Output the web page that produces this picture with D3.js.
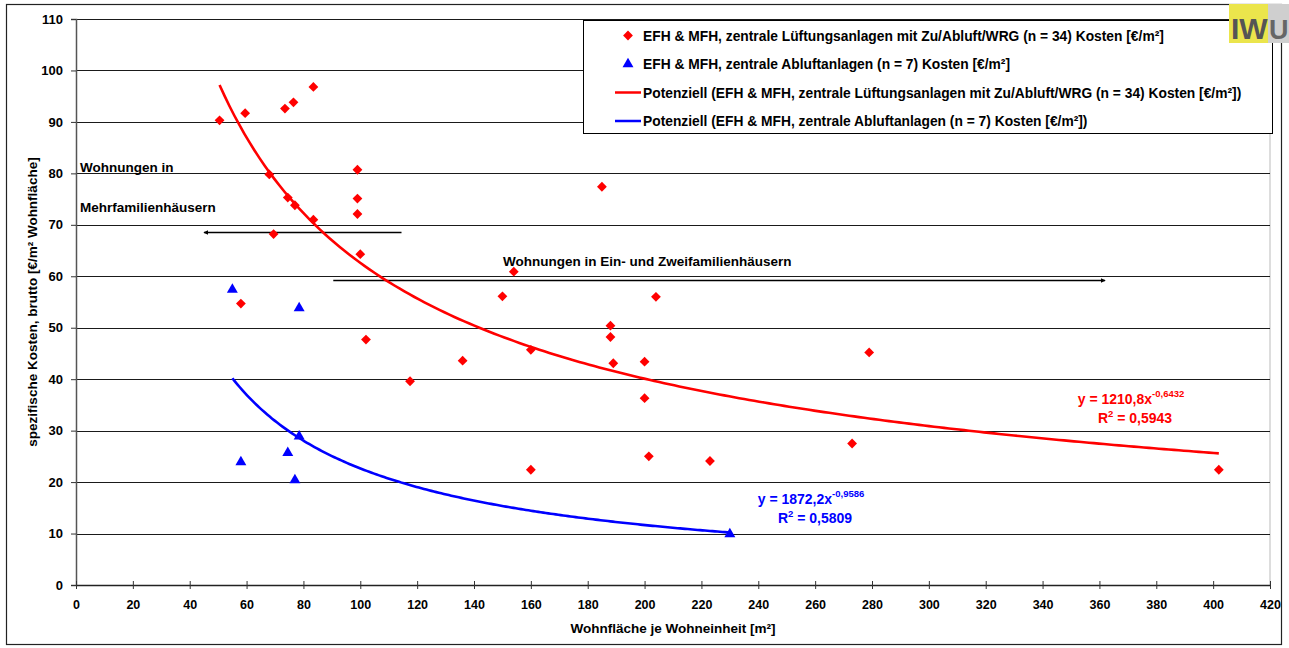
<!DOCTYPE html>
<html>
<head>
<meta charset="utf-8">
<script src="https://cdn.jsdelivr.net/npm/d3@7"></script>
<style>
  html, body { margin: 0; padding: 0; background: #fff; }
  svg { display: block; }
  text { font-family: Arial, "Liberation Sans", sans-serif; font-weight: bold; }
</style>
</head>
<body>
<svg id="chart" width="1289" height="648"></svg>
<script>
// Wohnfläche je Wohneinheit [m²] and spezifische Kosten [€/m²] per project
const zuAbluftX = [50.5, 59.5, 73.5, 76.5, 83.5, 68, 74.5, 77, 83.5, 69.5,
                   99, 99, 99, 100, 58, 102, 117.5, 136, 150, 154,
                   160, 160, 185, 188, 188, 189, 200, 204, 200, 201.5,
                   223, 273, 279, 402];
const zuAbluftY = [90.3, 91.7, 92.6, 93.8, 96.8, 79.8, 75.3, 73.8, 71, 68.2,
                   80.7, 75.1, 72.1, 64.3, 54.7, 47.7, 39.6, 43.6, 56.1, 60.9,
                   45.7, 22.4, 77.4, 50.4, 48.2, 43.1, 43.4, 56, 36.3, 25,
                   24.1, 27.5, 45.2, 22.4];
const abluftX = [55, 58, 78.5, 74.5, 77, 78.5, 230];
const abluftY = [57.4, 23.9, 53.8, 25.7, 20.4, 28.9, 9.9];

// Power-law fits y = a * x^b, with R²
const fitZuAbluft = [1210.8, -0.6432, 0.5943];
const fitAbluft = [1872.2, -0.9586, 0.5809];

const xTicks = d3.range(0, 421, 20);
const yTicks = d3.range(0, 111, 10);

const legendLabels = [
  "EFH & MFH, zentrale Lüftungsanlagen mit Zu/Abluft/WRG (n = 34) Kosten [€/m²]",
  "EFH & MFH, zentrale Abluftanlagen (n = 7) Kosten [€/m²]",
  "Potenziell (EFH & MFH, zentrale Lüftungsanlagen mit Zu/Abluft/WRG (n = 34) Kosten [€/m²])",
  "Potenziell (EFH & MFH, zentrale Abluftanlagen (n = 7) Kosten [€/m²])"
];

const RED = "#ff0000", BLUE = "#0000ff";
const svg = d3.select("#chart");

const x = d3.scaleLinear().domain([0, 420]).range([76, 1270]);
const y = d3.scaleLinear().domain([0, 110]).range([585, 19]);

// outer frame
svg.append("rect").attr("x", 6.5).attr("y", 4.5).attr("width", 1275).attr("height", 640)
  .attr("fill", "none").attr("stroke", "#222").attr("stroke-width", 1.2);

// plot area right edge
svg.append("line").attr("x1", x(420)).attr("x2", x(420)).attr("y1", y(110)).attr("y2", y(0))
  .attr("stroke", "#bbb").attr("stroke-width", 1);

// horizontal gridlines
svg.append("g").selectAll("line").data(yTicks.filter(v => v > 0)).join("line")
  .attr("x1", x(0)).attr("x2", x(420))
  .attr("y1", d => Math.round(y(d)) + 0.5).attr("y2", d => Math.round(y(d)) + 0.5)
  .attr("stroke", "#1a1a1a").attr("stroke-width", 1);

// axes
const yAxis = svg.append("g").attr("transform", `translate(${x(0)},0)`)
  .call(d3.axisLeft(y).tickValues(yTicks).tickSize(5).tickPadding(8).tickFormat(d3.format("d")));
yAxis.select(".domain").attr("stroke", "#555").attr("stroke-width", 1.5);
yAxis.selectAll(".tick line").attr("stroke", "#333");
yAxis.selectAll("text").attr("font-size", 13).attr("fill", "#000")
  .attr("font-family", "Arial, 'Liberation Sans', sans-serif").attr("font-weight", "bold");

const xAxis = svg.append("g").attr("transform", `translate(0,${y(0)})`)
  .call(d3.axisBottom(x).tickValues(xTicks).tickSize(0).tickPadding(15).tickFormat(d3.format("d")));
xAxis.select(".domain").attr("stroke", "#222").attr("stroke-width", 1.5);
xAxis.selectAll(".tick line").attr("y1", -4).attr("y2", 4).attr("stroke", "#333");
xAxis.selectAll("text").attr("font-size", 12.5).attr("fill", "#000")
  .attr("font-family", "Arial, 'Liberation Sans', sans-serif").attr("font-weight", "bold");

// axis titles
svg.append("text").attr("x", (x(0) + x(420)) / 2).attr("y", 633)
  .attr("text-anchor", "middle").attr("font-size", 13.5)
  .text("Wohnfläche je Wohneinheit [m²]");
svg.append("text").attr("transform", `translate(37,${(y(0) + y(110)) / 2}) rotate(-90)`)
  .attr("text-anchor", "middle").attr("font-size", 13.5)
  .text("spezifische Kosten, brutto [€/m² Wohnfläche]");

// arrow heads
const defs = svg.append("defs");
defs.append("marker").attr("id", "ah").attr("viewBox", "0 0 10 10")
  .attr("refX", 9).attr("refY", 5).attr("markerWidth", 5).attr("markerHeight", 5)
  .attr("markerUnits", "userSpaceOnUse").attr("orient", "auto")
  .append("path").attr("d", "M0,0 L10,5 L0,10 Z").attr("fill", "#000");

// annotations: housing type ranges
svg.append("line").attr("x1", x(114.5)).attr("x2", x(45)).attr("y1", 232.5).attr("y2", 232.5)
  .attr("stroke", "#000").attr("stroke-width", 1.6).attr("marker-end", "url(#ah)");
svg.append("line").attr("x1", x(90.5)).attr("x2", x(362)).attr("y1", 280.5).attr("y2", 280.5)
  .attr("stroke", "#000").attr("stroke-width", 1.6).attr("marker-end", "url(#ah)");
svg.append("text").attr("x", 80).attr("y", 172).attr("font-size", 13.5).text("Wohnungen in");
svg.append("text").attr("x", 80).attr("y", 212).attr("font-size", 13.5).text("Mehrfamilienhäusern");
svg.append("text").attr("x", 503).attr("y", 266).attr("font-size", 13.5)
  .text("Wohnungen in Ein- und Zweifamilienhäusern");

// trend curves from the fit coefficients
function fitLine(fit, xs) {
  const lo = d3.min(xs), hi = d3.max(xs);
  return d3.range(0, 201).map(i => {
    const xv = lo + (hi - lo) * i / 200;
    return [xv, fit[0] * Math.pow(xv, fit[1])];
  });
}
const line = d3.line().x(d => x(d[0])).y(d => y(d[1]));
svg.append("path").datum(fitLine(fitZuAbluft, zuAbluftX)).attr("d", line)
  .attr("fill", "none").attr("stroke", RED).attr("stroke-width", 2.6);
svg.append("path").datum(fitLine(fitAbluft, abluftX)).attr("d", line)
  .attr("fill", "none").attr("stroke", BLUE).attr("stroke-width", 2.6);

// markers
const diamond = d3.symbol().type(d3.symbolSquare).size(48);
const tri = d3.symbol().type(d3.symbolTriangle).size(52);
svg.append("g").selectAll("path").data(d3.zip(zuAbluftX, zuAbluftY)).join("path")
  .attr("d", diamond).attr("transform", d => `translate(${x(d[0])},${y(d[1])}) rotate(45)`)
  .attr("fill", RED);
svg.append("g").selectAll("path").data(d3.zip(abluftX, abluftY)).join("path")
  .attr("d", tri).attr("transform", d => `translate(${x(d[0])},${y(d[1])})`)
  .attr("fill", BLUE);

// fit equations
function equation(fit, cx, by, color) {
  const t = svg.append("text").attr("x", cx).attr("y", by).attr("text-anchor", "middle")
    .attr("font-size", 14).attr("fill", color);
  t.append("tspan").text("y = " + String(fit[0]).replace(".", ",") + "x");
  t.append("tspan").attr("dy", -7).attr("font-size", 9.5).text(String(fit[1]).replace(".", ","));
  const r = svg.append("text").attr("x", cx + 4).attr("y", by + 19).attr("text-anchor", "middle")
    .attr("font-size", 14).attr("fill", color);
  r.append("tspan").text("R");
  r.append("tspan").attr("dy", -6).attr("font-size", 9.5).text("2");
  r.append("tspan").attr("dy", 6).text(" = " + String(fit[2]).replace(".", ","));
}
equation(fitZuAbluft, 1131, 404, RED);
equation(fitAbluft, 811, 504, BLUE);

// legend
const lg = svg.append("g");
lg.append("rect").attr("x", 583.5).attr("y", 20.5).attr("width", 689).attr("height", 113)
  .attr("fill", "#fff").attr("stroke", "#000").attr("stroke-width", 1);
const rowY = [35.5, 64, 92.5, 121];
lg.append("path").attr("d", diamond).attr("transform", `translate(628,${rowY[0]}) rotate(45)`).attr("fill", RED);
lg.append("path").attr("d", tri).attr("transform", `translate(628,${rowY[1]})`).attr("fill", BLUE);
lg.append("line").attr("x1", 615).attr("x2", 641).attr("y1", rowY[2]).attr("y2", rowY[2])
  .attr("stroke", RED).attr("stroke-width", 2.5);
lg.append("line").attr("x1", 615).attr("x2", 641).attr("y1", rowY[3]).attr("y2", rowY[3])
  .attr("stroke", BLUE).attr("stroke-width", 2.5);
lg.selectAll("text.lt").data(legendLabels).join("text").attr("class", "lt")
  .attr("x", 643).attr("y", (d, i) => rowY[i] + 5).attr("font-size", 13.8).text(d => d);

// IWU logo
const logo = svg.append("g");
logo.append("rect").attr("x", 1229).attr("y", 4).attr("width", 39).attr("height", 39).attr("fill", "#ebe54c");
logo.append("rect").attr("x", 1268).attr("y", 4).attr("width", 21).attr("height", 39).attr("fill", "#cfcfcf");
logo.append("text").attr("x", 1231).attr("y", 39).attr("font-size", 30).attr("font-weight", "normal")
  .attr("fill", "#555").text("IW");
logo.append("text").attr("x", 1269).attr("y", 39).attr("font-size", 27).attr("font-weight", "normal")
  .attr("fill", "#666").text("U");
</script>
</body>
</html>
